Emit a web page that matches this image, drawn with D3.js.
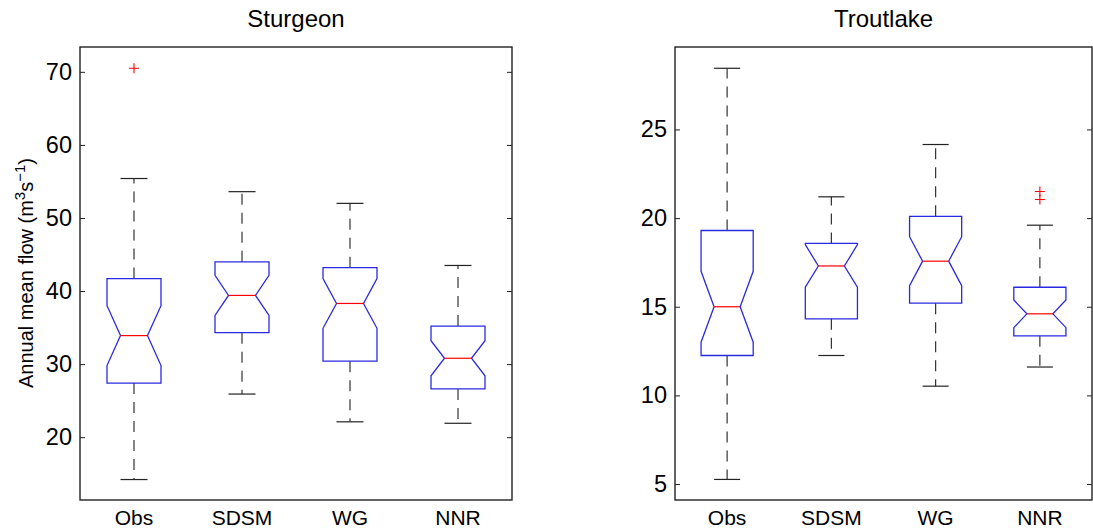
<!DOCTYPE html>
<html>
<head>
<meta charset="utf-8">
<script src="https://cdn.jsdelivr.net/npm/d3@7"></script>
<style>
  body { margin: 0; background: #fff; }
  svg { display: block; font-family: "Liberation Sans", Arial, Helvetica, sans-serif; }
</style>
</head>
<body>
<div id="chart"></div>
<script>
// categories shared by both panels
const categories = ["Obs", "SDSM", "WG", "NNR"];

// Sturgeon (annual mean flow, m3/s)
const sturgeonWhiskerHi = [55.4, 53.6, 52.0, 43.5];
const sturgeonQ3 = [41.7, 44.0, 43.2, 35.2];
const sturgeonMedian = [33.9, 39.4, 38.3, 30.8];
const sturgeonQ1 = [27.4, 34.3, 30.4, 26.6];
const sturgeonWhiskerLo = [14.2, 25.9, 22.1, 21.9];
const sturgeonNotch = [4.1, 2.75, 3.4, 2.4];
const sturgeonOutliers = [[70.5], [], [], []];
const sturgeonTicks = [20, 30, 40, 50, 60, 70];

// Troutlake
const troutWhiskerHi = [28.45, 21.2, 24.15, 19.6];
const troutQ3 = [19.3, 18.57, 20.1, 16.1];
const troutMedian = [15.0, 17.3, 17.57, 14.6];
const troutQ1 = [12.25, 14.32, 15.2, 13.36];
const troutWhiskerLo = [5.26, 12.25, 10.52, 11.6];
const troutNotch = [2.0, 1.2, 1.38, 0.78];
const troutOutliers = [[], [], [], [21.5, 21.05]];
const troutTicks = [5, 10, 15, 20, 25];

const W = 1093, H = 529;
const svg = d3.select("#chart").append("svg")
    .attr("width", W)
    .attr("height", H);

function drawPanel(opt) {
  const x = d3.scalePoint().domain(categories).range([opt.left, opt.right]).padding(0.5);
  const y = d3.scaleLinear().domain(opt.domain).range([opt.bottom, opt.top]);
  const hw = x.step() * 0.25;   // half box width
  const g = svg.append("g");

  // axes frame
  g.append("rect")
      .attr("x", opt.left).attr("y", opt.top)
      .attr("width", opt.right - opt.left).attr("height", opt.bottom - opt.top)
      .attr("fill", "none").attr("stroke", "#222").attr("stroke-width", 1.4);

  // y ticks (inward on both sides)
  const yl = g.append("g")
      .attr("transform", "translate(" + opt.left + ",0)")
      .call(d3.axisLeft(y).tickValues(opt.ticks).tickSize(-5).tickPadding(8));
  yl.select(".domain").remove();
  yl.selectAll("line").attr("stroke", "#222");
  yl.selectAll("text").attr("font-size", 23.5).attr("fill", "#000");

  const yr = g.append("g")
      .attr("transform", "translate(" + opt.right + ",0)")
      .call(d3.axisRight(y).tickValues(opt.ticks).tickSize(-5).tickFormat(""));
  yr.select(".domain").remove();
  yr.selectAll("line").attr("stroke", "#222");

  // category labels
  g.selectAll("text.cat")
    .data(categories)
    .enter().append("text")
      .attr("class", "cat")
      .attr("x", d => x(d))
      .attr("y", opt.bottom + 25)
      .attr("text-anchor", "middle")
      .attr("font-size", 21)
      .text(d => d);

  // title
  g.append("text")
      .attr("x", (opt.left + opt.right) / 2)
      .attr("y", 27)
      .attr("text-anchor", "middle")
      .attr("font-size", 24)
      .text(opt.title);

  const boxes = categories.map((c, i) => ({
    cat: c, hi: opt.whiskerHi[i], q3: opt.q3[i], med: opt.median[i],
    q1: opt.q1[i], lo: opt.whiskerLo[i], notch: opt.notch[i], out: opt.outliers[i]
  }));

  const box = g.selectAll("g.box")
    .data(boxes)
    .enter().append("g")
      .attr("class", "box");

  // whiskers
  box.append("line")
      .attr("x1", d => x(d.cat)).attr("x2", d => x(d.cat))
      .attr("y1", d => y(d.q3)).attr("y2", d => y(d.hi))
      .attr("stroke", "#333").attr("stroke-width", 1.2).attr("stroke-dasharray", "11,8");
  box.append("line")
      .attr("x1", d => x(d.cat)).attr("x2", d => x(d.cat))
      .attr("y1", d => y(d.q1)).attr("y2", d => y(d.lo))
      .attr("stroke", "#333").attr("stroke-width", 1.2).attr("stroke-dasharray", "11,8");

  // caps
  [d => d.hi, d => d.lo].forEach(f => {
    box.append("line")
        .attr("x1", d => x(d.cat) - hw / 2).attr("x2", d => x(d.cat) + hw / 2)
        .attr("y1", d => y(f(d))).attr("y2", d => y(f(d)))
        .attr("stroke", "#222").attr("stroke-width", 1.2);
  });

  // notched box
  box.append("path")
      .attr("d", d => {
        const cx = x(d.cat);
        const pts = [
          [cx - hw, y(d.q3)], [cx + hw, y(d.q3)],
          [cx + hw, y(d.med + d.notch)], [cx + hw / 2, y(d.med)], [cx + hw, y(d.med - d.notch)],
          [cx + hw, y(d.q1)], [cx - hw, y(d.q1)],
          [cx - hw, y(d.med - d.notch)], [cx - hw / 2, y(d.med)], [cx - hw, y(d.med + d.notch)]
        ];
        return d3.line()(pts) + "Z";
      })
      .attr("fill", "none")
      .attr("stroke", "#2a2ae0")
      .attr("stroke-width", 1.3);

  // median
  box.append("line")
      .attr("x1", d => x(d.cat) - hw / 2).attr("x2", d => x(d.cat) + hw / 2)
      .attr("y1", d => y(d.med)).attr("y2", d => y(d.med))
      .attr("stroke", "#f00").attr("stroke-width", 1.2);

  // outliers as '+'
  box.each(function(d) {
    const sel = d3.select(this);
    d.out.forEach(v => {
      const cx = x(d.cat), cy = y(v);
      sel.append("path")
          .attr("d", "M" + (cx - 5) + "," + cy + "H" + (cx + 5) + "M" + cx + "," + (cy - 5) + "V" + (cy + 5))
          .attr("stroke", "#f00").attr("stroke-width", 1.1).attr("fill", "none");
    });
  });
}

drawPanel({
  title: "Sturgeon", left: 80, right: 512, top: 47, bottom: 500,
  domain: [11.4, 73.4], ticks: sturgeonTicks,
  whiskerHi: sturgeonWhiskerHi, q3: sturgeonQ3, median: sturgeonMedian,
  q1: sturgeonQ1, whiskerLo: sturgeonWhiskerLo, notch: sturgeonNotch, outliers: sturgeonOutliers
});

drawPanel({
  title: "Troutlake", left: 675, right: 1092, top: 47, bottom: 500,
  domain: [4.1, 29.65], ticks: troutTicks,
  whiskerHi: troutWhiskerHi, q3: troutQ3, median: troutMedian,
  q1: troutQ1, whiskerLo: troutWhiskerLo, notch: troutNotch, outliers: troutOutliers
});

// y label with superscripts
const ylab = svg.append("text")
    .attr("transform", "translate(33,273) rotate(-90)")
    .attr("text-anchor", "middle")
    .attr("font-size", 20);
ylab.append("tspan").text("Annual mean flow (m");
ylab.append("tspan").attr("dy", -8).attr("font-size", 15).text("3");
ylab.append("tspan").attr("dy", 8).text("s");
ylab.append("tspan").attr("dy", -8).attr("font-size", 15).text("\u22121");
ylab.append("tspan").attr("dy", 8).text(")");
</script>
</body>
</html>
